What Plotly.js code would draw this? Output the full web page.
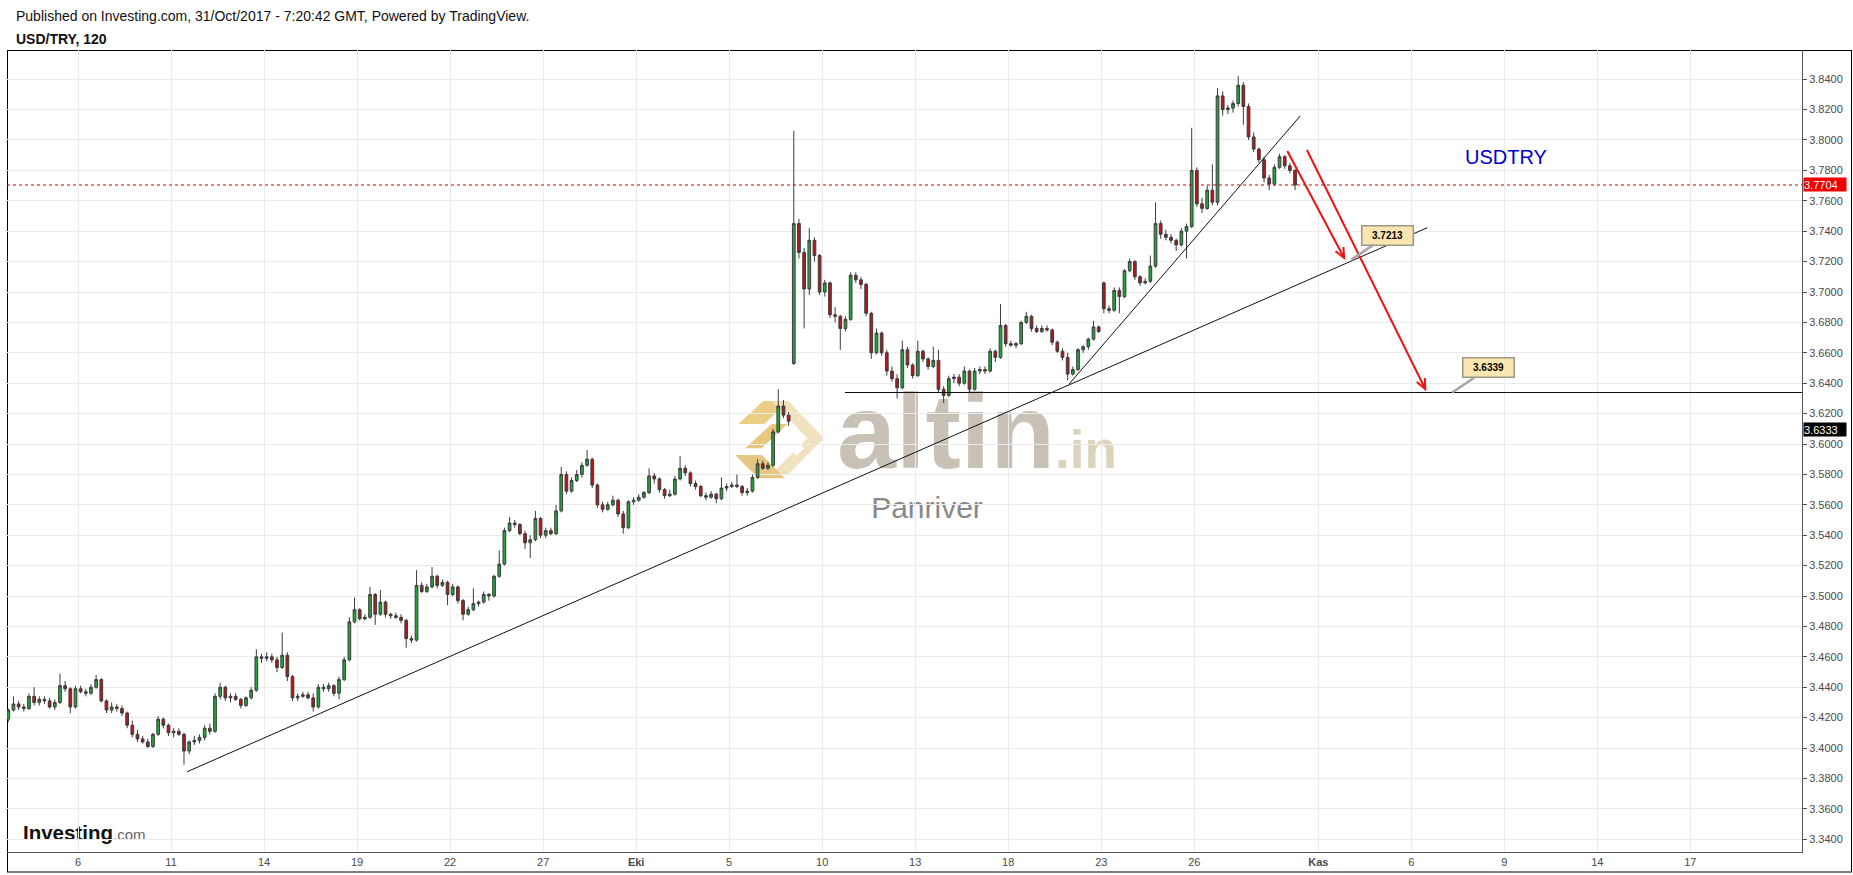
<!DOCTYPE html>
<html><head><meta charset="utf-8">
<script src="https://cdn.plot.ly/plotly-3.0.1.min.js"></script>
<style>
html,body{margin:0;padding:0;background:#fff;}
#wrap{position:relative;width:1853px;height:875px;overflow:hidden;}
#bg{position:absolute;left:0;top:0;z-index:0;}
#chart{position:absolute;left:0;top:0;width:1853px;height:875px;z-index:1;}
</style></head><body>
<div id="wrap">
<svg id="bg" width="1853" height="875" xmlns="http://www.w3.org/2000/svg" font-family="Liberation Sans, Arial, sans-serif">
  <text x="16" y="21" font-size="14" fill="#111">Published on Investing.com, 31/Oct/2017 - 7:20:42 GMT, Powered by TradingView.</text>
  <text x="16" y="44" font-size="14" font-weight="bold" fill="#111">USD/TRY, 120</text>
  <rect x="7.5" y="50.5" width="1844" height="821.5" fill="none" stroke="#000" stroke-width="1"/>
  <g>
    <polygon points="738.3,424 763.3,401 788.3,401 764.3,424" fill="#ebcd86"/>
    <polygon points="788.3,401 824,438.3 787.3,475 770.7,475 807.3,438.3 771.7,401" fill="#f0e2bf"/>
    <polygon points="745,448.3 771.7,424 787.3,424 761.7,448.3" fill="#e8c77e"/>
    <polygon points="735,455 761.7,455 785,478.3 758.3,478.3" fill="#e6c683"/>
    <polygon points="796.7,441 804,448.3 796.7,455.6 789.4,448.3" fill="#ffffff"/>
  </g>
  <text x="837" y="468" font-size="106" font-weight="bold" fill="#c7c2b5">altin</text>
  <text x="1055" y="468" font-size="53" font-weight="bold" fill="#dcd3bd">.in</text>
  <text x="927" y="518" font-size="30" fill="#888888" text-anchor="middle">Panriver</text>
  <text x="23" y="840" font-size="20.5" font-weight="bold" fill="#111">Investing<tspan font-size="15" font-weight="normal" fill="#666">.com</tspan></text>
</svg>
<div id="chart"></div>
</div>
<script>
// ---- data: USD/TRY 4-hour-ish candles ----
const open = [
3.419,3.425,3.429,3.427,3.426,3.434,3.430,3.432,3.431,3.427,
3.430,3.441,3.439,3.427,3.439,3.437,3.436,3.440,3.445,3.431,
3.425,3.427,3.426,3.423,3.415,3.409,3.406,3.404,3.401,3.409,
3.419,3.415,3.410,3.411,3.409,3.398,3.404,3.405,3.407,3.413,
3.411,3.434,3.440,3.433,3.434,3.432,3.428,3.433,3.438,3.460,
3.459,3.460,3.458,3.453,3.461,3.447,3.433,3.434,3.435,3.433,
3.427,3.440,3.439,3.441,3.436,3.445,3.458,3.483,3.491,3.485,
3.486,3.501,3.488,3.496,3.488,3.487,3.486,3.484,3.472,3.471,
3.507,3.503,3.506,3.513,3.507,3.509,3.501,3.506,3.497,3.488,
3.491,3.495,3.496,3.501,3.500,3.513,3.521,3.543,3.548,3.547,
3.541,3.535,3.537,3.551,3.540,3.543,3.541,3.556,3.580,3.569,
3.576,3.580,3.586,3.590,3.573,3.560,3.557,3.560,3.563,3.554,
3.545,3.562,3.563,3.565,3.568,3.579,3.577,3.570,3.566,3.567,
3.577,3.584,3.581,3.574,3.572,3.566,3.565,3.567,3.564,3.571,
3.572,3.573,3.572,3.568,3.569,3.578,3.587,3.584,3.586,3.608,
3.625,3.619,3.653,3.745,3.726,3.702,3.734,3.724,3.700,3.706,
3.685,3.684,3.676,3.682,3.711,3.708,3.705,3.686,3.660,3.673,
3.660,3.648,3.643,3.637,3.662,3.652,3.645,3.661,3.656,3.651,
3.655,3.636,3.632,3.643,3.644,3.640,3.648,3.636,3.648,3.649,
3.648,3.661,3.657,3.678,3.666,3.665,3.666,3.680,3.684,3.676,
3.674,3.676,3.675,3.667,3.661,3.657,3.646,3.649,3.662,3.664,
3.669,3.677,3.706,3.689,3.688,3.701,3.697,3.714,3.720,3.710,
3.706,3.707,3.717,3.745,3.738,3.736,3.734,3.731,3.740,3.743,
3.780,3.758,3.755,3.767,3.759,3.829,3.820,3.821,3.824,3.836,
3.822,3.802,3.794,3.787,3.775,3.771,3.782,3.789,3.783,3.780];
const high = [
3.426,3.434,3.431,3.429,3.436,3.440,3.434,3.434,3.433,3.432,
3.449,3.444,3.440,3.441,3.441,3.439,3.442,3.448,3.446,3.432,
3.430,3.429,3.428,3.424,3.418,3.412,3.408,3.406,3.410,3.421,
3.420,3.416,3.413,3.413,3.410,3.405,3.408,3.409,3.415,3.416,
3.436,3.443,3.441,3.436,3.436,3.433,3.434,3.440,3.465,3.462,
3.463,3.462,3.460,3.476,3.463,3.448,3.436,3.437,3.437,3.436,
3.442,3.442,3.443,3.442,3.447,3.460,3.486,3.499,3.492,3.488,
3.506,3.502,3.504,3.497,3.489,3.489,3.488,3.485,3.474,3.517,
3.509,3.508,3.519,3.514,3.511,3.510,3.508,3.507,3.498,3.493,
3.505,3.497,3.503,3.502,3.514,3.530,3.545,3.552,3.550,3.548,
3.543,3.540,3.556,3.552,3.545,3.545,3.560,3.585,3.582,3.578,
3.583,3.588,3.596,3.591,3.574,3.562,3.562,3.566,3.564,3.556,
3.563,3.565,3.567,3.569,3.584,3.581,3.578,3.571,3.570,3.579,
3.592,3.586,3.582,3.576,3.573,3.568,3.569,3.568,3.578,3.574,
3.575,3.580,3.573,3.571,3.580,3.590,3.589,3.588,3.610,3.636,
3.629,3.621,3.806,3.748,3.729,3.742,3.736,3.725,3.708,3.707,
3.690,3.685,3.684,3.713,3.713,3.710,3.706,3.687,3.676,3.674,
3.662,3.651,3.646,3.668,3.664,3.653,3.668,3.662,3.657,3.664,
3.662,3.638,3.645,3.646,3.646,3.651,3.649,3.650,3.651,3.651,
3.663,3.662,3.692,3.679,3.668,3.667,3.681,3.687,3.685,3.678,
3.678,3.678,3.676,3.668,3.663,3.660,3.651,3.663,3.665,3.670,
3.681,3.678,3.707,3.691,3.703,3.703,3.715,3.722,3.721,3.711,
3.709,3.724,3.759,3.747,3.741,3.738,3.735,3.742,3.745,3.808,
3.782,3.762,3.770,3.784,3.834,3.832,3.823,3.826,3.842,3.838,
3.824,3.805,3.795,3.789,3.777,3.784,3.791,3.790,3.785,3.781];
const low = [
3.417,3.424,3.425,3.424,3.425,3.428,3.428,3.429,3.426,3.425,
3.429,3.437,3.423,3.426,3.436,3.434,3.435,3.439,3.430,3.423,
3.423,3.424,3.421,3.413,3.407,3.404,3.403,3.400,3.400,3.408,
3.413,3.408,3.407,3.408,3.389,3.396,3.402,3.403,3.405,3.409,
3.410,3.432,3.431,3.430,3.431,3.426,3.427,3.432,3.437,3.456,
3.457,3.456,3.450,3.452,3.444,3.431,3.431,3.433,3.432,3.424,
3.426,3.437,3.437,3.434,3.432,3.444,3.457,3.482,3.484,3.484,
3.485,3.481,3.487,3.486,3.485,3.485,3.482,3.466,3.469,3.470,
3.502,3.502,3.505,3.505,3.506,3.494,3.500,3.495,3.484,3.487,
3.490,3.493,3.495,3.497,3.499,3.512,3.520,3.542,3.545,3.540,
3.531,3.525,3.536,3.538,3.538,3.540,3.540,3.555,3.567,3.568,
3.575,3.578,3.585,3.571,3.558,3.555,3.556,3.559,3.552,3.541,
3.544,3.560,3.562,3.564,3.567,3.574,3.568,3.564,3.565,3.566,
3.576,3.579,3.572,3.570,3.565,3.563,3.564,3.561,3.563,3.569,
3.571,3.571,3.566,3.566,3.568,3.577,3.583,3.583,3.585,3.607,
3.617,3.612,3.652,3.722,3.676,3.698,3.720,3.698,3.697,3.683,
3.680,3.662,3.674,3.681,3.706,3.702,3.684,3.656,3.659,3.658,
3.645,3.641,3.630,3.636,3.650,3.643,3.644,3.654,3.649,3.650,
3.634,3.627,3.631,3.640,3.638,3.639,3.634,3.635,3.646,3.646,
3.647,3.654,3.656,3.664,3.664,3.663,3.665,3.679,3.674,3.673,
3.673,3.674,3.665,3.660,3.655,3.642,3.645,3.648,3.660,3.662,
3.668,3.673,3.686,3.686,3.687,3.686,3.696,3.713,3.708,3.704,
3.705,3.706,3.716,3.735,3.734,3.732,3.727,3.730,3.722,3.742,
3.756,3.752,3.754,3.757,3.757,3.816,3.817,3.818,3.822,3.810,
3.800,3.792,3.785,3.772,3.767,3.770,3.781,3.781,3.778,3.767];
const close = [
3.425,3.429,3.427,3.426,3.434,3.430,3.432,3.431,3.427,3.430,
3.441,3.439,3.427,3.439,3.437,3.436,3.440,3.445,3.431,3.425,
3.427,3.426,3.423,3.415,3.409,3.406,3.404,3.401,3.409,3.419,
3.415,3.410,3.411,3.409,3.398,3.404,3.405,3.407,3.413,3.411,
3.434,3.440,3.433,3.434,3.432,3.428,3.433,3.438,3.460,3.459,
3.460,3.458,3.453,3.461,3.447,3.433,3.434,3.435,3.433,3.427,
3.440,3.439,3.441,3.436,3.445,3.458,3.483,3.491,3.485,3.486,
3.501,3.488,3.496,3.488,3.487,3.486,3.484,3.472,3.471,3.507,
3.503,3.506,3.513,3.507,3.509,3.501,3.506,3.497,3.488,3.491,
3.495,3.496,3.501,3.500,3.513,3.521,3.543,3.548,3.547,3.541,
3.535,3.537,3.551,3.540,3.543,3.541,3.556,3.580,3.569,3.576,
3.580,3.586,3.590,3.573,3.560,3.557,3.560,3.563,3.554,3.545,
3.562,3.563,3.565,3.568,3.579,3.577,3.570,3.566,3.567,3.577,
3.584,3.581,3.574,3.572,3.566,3.565,3.567,3.564,3.571,3.572,
3.573,3.572,3.568,3.569,3.578,3.587,3.584,3.586,3.608,3.625,
3.619,3.615,3.745,3.726,3.702,3.734,3.724,3.700,3.706,3.685,
3.684,3.676,3.682,3.711,3.708,3.705,3.686,3.660,3.673,3.660,
3.648,3.643,3.637,3.662,3.652,3.645,3.661,3.656,3.651,3.655,
3.636,3.632,3.643,3.644,3.640,3.648,3.636,3.648,3.649,3.648,
3.661,3.657,3.678,3.666,3.665,3.666,3.680,3.684,3.676,3.674,
3.676,3.675,3.667,3.661,3.657,3.646,3.649,3.662,3.664,3.669,
3.677,3.674,3.689,3.688,3.701,3.697,3.714,3.720,3.710,3.706,
3.707,3.717,3.745,3.738,3.736,3.734,3.731,3.740,3.743,3.780,
3.758,3.755,3.767,3.759,3.829,3.820,3.821,3.824,3.836,3.822,
3.802,3.794,3.787,3.775,3.771,3.782,3.789,3.783,3.780,3.7704];

const barsPerDay = 6;
const firstBarDay = -20.333;            // session day of first bar, relative to 2 Oct ("Eki")
const tickDays   = [-18,-15,-12,-9,-6,-3,0,3,6,9,12,15,18,22,25,28,31,34];
const tickLabels = ['6','11','14','19','22','27','<b>Eki</b>','5','10','13','18','23','26','<b>Kas</b>','6','9','14','17'];
const lastPrice = 3.7704;
const supportAxisLabel = '3.6333';

// drawings made by the author (bar index, price)
const trendLines = [
  {x0:34.6, y0:3.3844, x1:274.6, y1:3.7423},
  {x0:205.3, y0:3.6395, x1:250.0, y1:3.8158}
];
const supportLine = {x0:161.9, y:3.6339};
const redArrows = [
  {x0:247.5, y0:3.7928, x1:258.5, y1:3.7224},
  {x0:251.3, y0:3.7934, x1:274.2, y1:3.6362}
];
const callouts = [
  {x:259.9, y:3.7213, text:'3.7213'},
  {x:279.4, y:3.6339, text:'3.6339'}
];

// ---- geometry ----
const W=1853, H=875, L=7, R=51, T=50, B=23;
const xr=[-0.25, 347.1], yr=[3.3316, 3.8592];
const sx=(W-L-R)/(xr[1]-xr[0]), sy=(H-T-B)/(yr[1]-yr[0]);
const paperX = px => (px-L)/(W-L-R);
const paperY = py => (H-B-py)/(H-T-B);
const FONT='Liberation Sans, Arial, sans-serif';

const xIdx = close.map((_,i)=>i);
const tickVals = tickDays.map(d => (d-firstBarDay)*barsPerDay - 0.5);

const shapes = [];
trendLines.forEach(t => shapes.push({type:'line', xref:'x', yref:'y', x0:t.x0, y0:t.y0, x1:t.x1, y1:t.y1, line:{color:'#111', width:1}}));
shapes.push({type:'line', xref:'x', yref:'y', x0:supportLine.x0, x1:xr[1], y0:supportLine.y, y1:supportLine.y, line:{color:'#111', width:1.2}});
shapes.push({type:'line', xref:'paper', yref:'y', x0:0, x1:1, y0:lastPrice, y1:lastPrice, line:{color:'#dd0000', width:1, dash:'dot'}});
redArrows.forEach(a => {
  shapes.push({type:'line', xref:'x', yref:'y', x0:a.x0, y0:a.y0, x1:a.x1, y1:a.y1, line:{color:'#ee1111', width:2}});
  const dxp=(a.x1-a.x0)*sx, dyp=-(a.y1-a.y0)*sy;
  const len=Math.hypot(dxp,dyp), ux=dxp/len, uy=dyp/len;
  const hl=11, ang=0.42;
  const pts=[ang,-ang].map(t => {
    const c=Math.cos(t), s=Math.sin(t);
    const bx=-(ux*c-uy*s)*hl, by=-(ux*s+uy*c)*hl;
    return [a.x1+bx/sx, a.y1-by/sy];
  });
  shapes.push({type:'path', xref:'x', yref:'y',
    path:`M ${pts[0][0]},${pts[0][1]} L ${a.x1},${a.y1} L ${pts[1][0]},${pts[1][1]}`,
    line:{color:'#ee1111', width:2}});
});

const annotations = [];
callouts.forEach(c => annotations.push({
  xref:'x', yref:'y', x:c.x, y:c.y, text:'<b>'+c.text+'</b>', showarrow:true,
  ax:36.5, ay:-24.5, arrowhead:0, arrowwidth:2.5, arrowcolor:'#a5a5a5',
  bgcolor:'#fbe6b1', bordercolor:'#9d9884', borderwidth:1.5, borderpad:1,
  width:48, height:16, font:{family:FONT, size:10, color:'#000'}
}));
annotations.push({xref:'paper', yref:'paper', x:paperX(1506), y:paperY(157), text:'USDTRY',
  showarrow:false, xanchor:'center', yanchor:'middle', font:{family:FONT, size:20, color:'#0000cc'}});
annotations.push({xref:'paper', yref:'y', x:paperX(1803), y:lastPrice, text:lastPrice.toFixed(4),
  showarrow:false, xanchor:'left', yanchor:'middle', align:'left', bgcolor:'#f00000',
  width:42, height:13, borderpad:0, font:{family:FONT, size:11, color:'#fff'}});
annotations.push({xref:'paper', yref:'paper', x:paperX(1803), y:paperY(429), text:supportAxisLabel,
  showarrow:false, xanchor:'left', yanchor:'middle', align:'left', bgcolor:'#000',
  width:42, height:13, borderpad:0, font:{family:FONT, size:11, color:'#fff'}});

const trace = {
  type:'candlestick', x:xIdx, open:open, high:high, low:low, close:close,
  increasing:{line:{color:'#3c3c3c', width:1}, fillcolor:'#1fa63a'},
  decreasing:{line:{color:'#3c3c3c', width:1}, fillcolor:'#b8161b'},
  whiskerwidth:0, hoverinfo:'skip', showlegend:false
};

const layout = {
  width:W, height:H, margin:{l:L, r:R, t:T, b:B, pad:0},
  paper_bgcolor:'rgba(0,0,0,0)', plot_bgcolor:'rgba(0,0,0,0)',
  font:{family:FONT, size:11, color:'#444'},
  showlegend:false, boxgap:0.25,
  xaxis:{range:xr, type:'linear', tickmode:'array', tickvals:tickVals, ticktext:tickLabels,
    showgrid:true, gridcolor:'#ebebeb', gridwidth:1, zeroline:false,
    showline:true, linecolor:'#555', linewidth:1, ticks:'', tickfont:{size:11, color:'#4a4a4a'},
    rangeslider:{visible:false}, fixedrange:true},
  yaxis:{range:yr, side:'right', tick0:3.34, dtick:0.02, tickformat:'.4f',
    showgrid:true, gridcolor:'#ebebeb', gridwidth:1, zeroline:false,
    showline:true, linecolor:'#555', linewidth:1, ticks:'outside', ticklen:4, tickcolor:'#555',
    tickfont:{size:11, color:'#4a4a4a'}, fixedrange:true},
  shapes:shapes, annotations:annotations
};

Plotly.newPlot('chart', [trace], layout, {staticPlot:true, displayModeBar:false});
</script>
</body></html>
